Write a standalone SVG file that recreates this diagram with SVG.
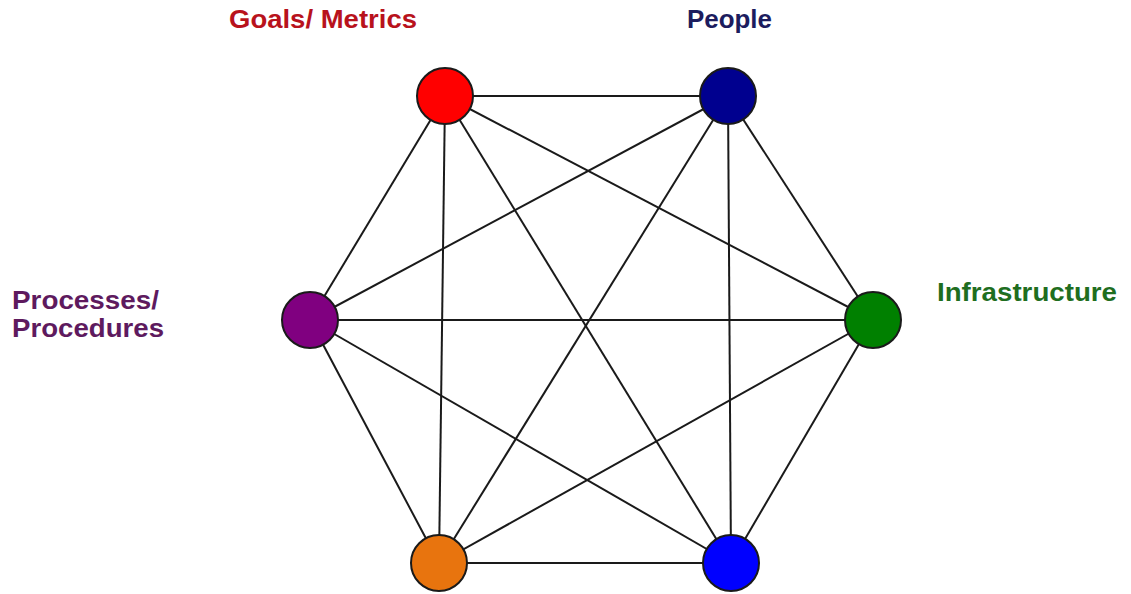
<svg xmlns="http://www.w3.org/2000/svg" width="1131" height="594" viewBox="0 0 1131 594">
<style>
.edge{stroke:#1a1a1a;stroke-width:2;fill:none}
.node{stroke:#1a1a1a;stroke-width:2}
.lbl{font-family:"Liberation Sans",Arial,sans-serif;font-weight:bold;font-size:25px}
</style>
<rect width="1131" height="594" fill="#ffffff"/>
<g id="connectors">
<line class="edge" x1="445" y1="96" x2="728" y2="96"/>
<line class="edge" x1="445" y1="96" x2="310" y2="320"/>
<line class="edge" x1="445" y1="96" x2="873" y2="320"/>
<line class="edge" x1="445" y1="96" x2="439" y2="563"/>
<line class="edge" x1="445" y1="96" x2="731" y2="563"/>
<line class="edge" x1="728" y1="96" x2="310" y2="320"/>
<line class="edge" x1="728" y1="96" x2="873" y2="320"/>
<line class="edge" x1="728" y1="96" x2="439" y2="563"/>
<line class="edge" x1="728" y1="96" x2="731" y2="563"/>
<line class="edge" x1="310" y1="320" x2="873" y2="320"/>
<line class="edge" x1="310" y1="320" x2="439" y2="563"/>
<line class="edge" x1="310" y1="320" x2="731" y2="563"/>
<line class="edge" x1="873" y1="320" x2="439" y2="563"/>
<line class="edge" x1="873" y1="320" x2="731" y2="563"/>
<line class="edge" x1="439" y1="563" x2="731" y2="563"/>
</g>
<g id="goals">
<circle class="node" cx="445" cy="96" r="28" fill="#ff0000"/>
<text class="lbl" x="229" y="28" fill="#b8121c" textLength="188" lengthAdjust="spacingAndGlyphs">Goals/ Metrics</text>
</g>
<g id="people">
<circle class="node" cx="728" cy="96" r="28" fill="#00008f"/>
<text class="lbl" x="687" y="28" fill="#1c1c5e" textLength="85" lengthAdjust="spacingAndGlyphs">People</text>
</g>
<g id="processes">
<circle class="node" cx="310" cy="320" r="28" fill="#800080"/>
<text class="lbl" x="12" y="309" fill="#5e1a5e" textLength="147" lengthAdjust="spacingAndGlyphs">Processes/</text>
<text class="lbl" x="12" y="337" fill="#5e1a5e" textLength="152" lengthAdjust="spacingAndGlyphs">Procedures</text>
</g>
<g id="infrastructure">
<circle class="node" cx="873" cy="320" r="28" fill="#008000"/>
<text class="lbl" x="937" y="301" fill="#1f6e1f" textLength="180" lengthAdjust="spacingAndGlyphs">Infrastructure</text>
</g>
<g id="orange-node">
<circle class="node" cx="439" cy="563" r="28" fill="#e8740e"/>
</g>
<g id="blue-node">
<circle class="node" cx="731" cy="563" r="28" fill="#0000ff"/>
</g>
</svg>
